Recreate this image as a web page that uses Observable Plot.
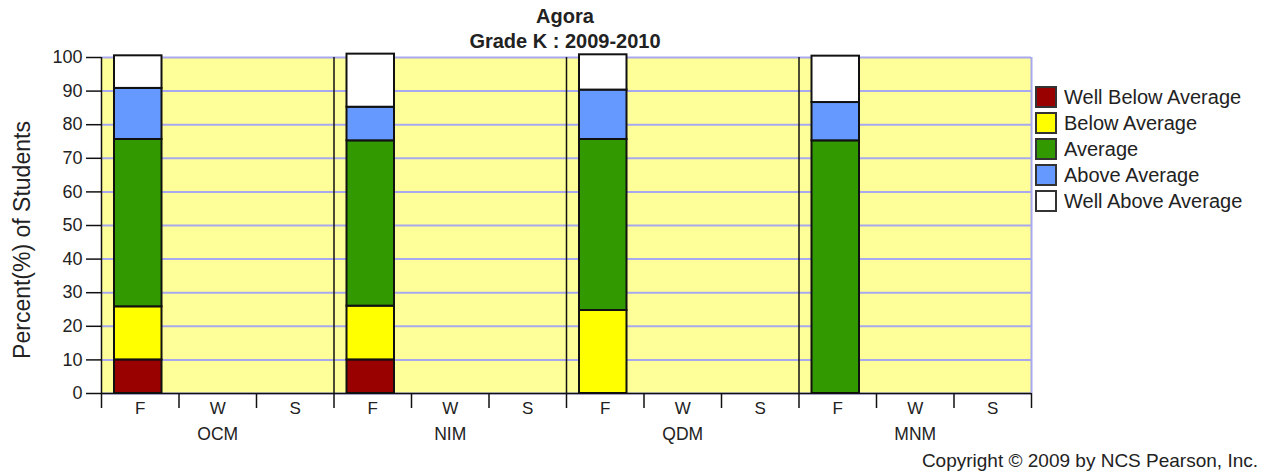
<!DOCTYPE html>
<html>
<head>
<meta charset="utf-8">
<script src="https://cdn.jsdelivr.net/npm/d3@7"></script>
<script src="https://cdn.jsdelivr.net/npm/@observablehq/plot@0.6"></script>
<style>
  body { margin: 0; background: #fff; }
  #wrap { position: relative; width: 1267px; height: 476px; overflow: hidden; font-family: "Liberation Sans", Arial, sans-serif; color: #222; }
  #chart { position: absolute; left: 0; top: 0; }
  .title { position: absolute; left: 315px; width: 500px; text-align: center; font-weight: bold; font-size: 20px; line-height: 20px; white-space: nowrap; }
  #ylabel { position: absolute; left: 22px; top: 240px; transform: translate(-50%, -50%) rotate(-90deg); font-size: 23px; white-space: nowrap; }
  #legend { position: absolute; left: 1035px; top: 86px; }
  .row { height: 26px; display: flex; align-items: flex-start; }
  .sw { width: 22px; height: 22px; box-sizing: border-box; border: 2px solid #333; }
  .lt { margin-left: 7px; font-size: 20px; line-height: 22px; white-space: nowrap; }
  #copy { position: absolute; right: 9px; top: 450px; font-size: 19px; white-space: nowrap; }
</style>
</head>
<body>
<div id="wrap">
  <div id="chart"></div>
  <div class="title" id="t1" style="top:6px"></div>
  <div class="title" id="t2" style="top:31px"></div>
  <div id="ylabel"></div>
  <div id="legend"></div>
  <div id="copy"></div>
</div>
<script>
const titleText = "Agora";
const subtitleText = "Grade K : 2009-2010";
const yLabelText = "Percent(%) of Students";
const copyrightText = "Copyright \u00A9 2009 by NCS Pearson, Inc.";

const groups = ["OCM", "NIM", "QDM", "MNM"];
const periods = ["F", "W", "S"];
const levels = ["Well Below Average", "Below Average", "Average", "Above Average", "Well Above Average"];
const levelColors = ["#990000", "#ffff00", "#339900", "#6699ff", "#ffffff"];

// Fall (F) values per group, in percent
const wellBelow = [10, 10, 0, 0];
const below = [15.8, 16, 24.7, 0];
const average = [49.8, 49.2, 50.9, 75.2];
const above = [15.2, 10, 14.7, 11.4];
const wellAbove = [9.7, 15.8, 10.5, 13.8];
const series = [wellBelow, below, average, above, wellAbove];

const yTicks = [0, 10, 20, 30, 40, 50, 60, 70, 80, 90, 100];

// build table
const nSlots = groups.length * periods.length;
const rows = [];
groups.forEach((g, gi) => {
  levels.forEach((lv, li) => {
    rows.push({group: g, period: "F", slot: gi * periods.length, level: lv, value: series[li][gi]});
  });
});
const slots = [];
groups.forEach((g, gi) => periods.forEach((p, pi) => slots.push({group: g, period: p, slot: gi * periods.length + pi})));
const boundaries = d3.range(nSlots + 1);
const groupStarts = groups.map((g, gi) => gi * periods.length);
const groupRows = groups.map((g, gi) => ({group: g, start: gi * periods.length}));

const chart = Plot.plot({
  width: 1267,
  height: 476,
  marginLeft: 101,
  marginRight: 236,
  marginTop: 57,
  marginBottom: 83,
  style: {fontFamily: "'Liberation Sans', Arial, sans-serif", color: "#222", background: "transparent", overflow: "visible"},
  x: {type: "linear", domain: [0, nSlots], axis: null},
  y: {domain: [0, 100], axis: null},
  color: {domain: levels, range: levelColors},
  marks: [
    Plot.frame({fill: "#ffff99", stroke: null}),
    Plot.gridY(yTicks, {stroke: "#a8a8ee", strokeOpacity: 1, strokeWidth: 2}),
    Plot.ruleX([nSlots], {stroke: "#a8a8ee", strokeWidth: 2}),
    Plot.ruleX(groupStarts, {stroke: "#111", strokeWidth: 1.5}),
    Plot.rectY(rows, {
      x1: "slot",
      x2: d => d.slot + 1,
      y: "value",
      fill: "level",
      order: levels,
      stroke: "#111",
      strokeWidth: 2,
      insetLeft: 13,
      insetRight: 17
    }),
    Plot.ruleY([0], {stroke: "#111", strokeWidth: 1.5}),
    Plot.axisY(yTicks, {tickSize: 15, tickPadding: 4, fontSize: 18, stroke: "#111", strokeWidth: 1.5, label: null}),
    Plot.axisX(boundaries, {tickSize: 15, tickFormat: () => "", stroke: "#111", strokeWidth: 1.5, label: null}),
    Plot.text(slots, {x: d => d.slot + 0.5, frameAnchor: "bottom", dy: 15, text: "period", fontSize: 17, fill: "#222", lineAnchor: "middle"}),
    Plot.text(groupRows, {x: d => d.start + periods.length / 2, frameAnchor: "bottom", dy: 41, text: "group", fontSize: 17.5, fill: "#222", lineAnchor: "middle"})
  ]
});
document.getElementById("chart").appendChild(chart);

document.getElementById("t1").textContent = titleText;
document.getElementById("t2").textContent = subtitleText;
document.getElementById("ylabel").textContent = yLabelText;
document.getElementById("copy").textContent = copyrightText;

const legend = document.getElementById("legend");
levels.forEach((lv, i) => {
  const row = document.createElement("div");
  row.className = "row";
  const sw = document.createElement("div");
  sw.className = "sw";
  sw.style.background = levelColors[i];
  const lt = document.createElement("div");
  lt.className = "lt";
  lt.textContent = lv;
  row.appendChild(sw);
  row.appendChild(lt);
  legend.appendChild(row);
});
</script>
</body>
</html>
